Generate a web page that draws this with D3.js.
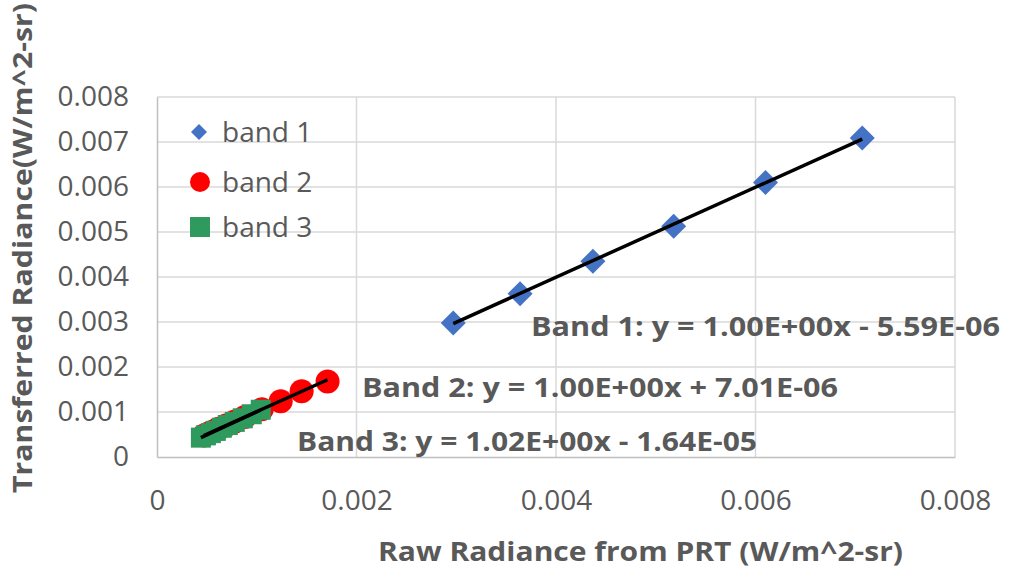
<!DOCTYPE html>
<html>
<head>
<meta charset="utf-8">
<script src="https://cdn.jsdelivr.net/npm/d3@7/dist/d3.min.js"></script>
<style>
  html, body { margin: 0; padding: 0; background: #ffffff; }
  svg { display: block; }
  text { font-family: "Open Sans", "Liberation Sans", sans-serif; fill: #595959; }
</style>
</head>
<body>
<svg id="chart" width="1014" height="573"></svg>
<script>
// Raw radiance (x) vs transferred radiance (y), W/m^2-sr
const band1X = [0.00297, 0.00364, 0.00437, 0.00518, 0.00610, 0.00707];
const band1Y = [0.00298, 0.00363, 0.00435, 0.00513, 0.00610, 0.00709];

const band2X = [0.00047, 0.00054, 0.00061, 0.00069, 0.00078, 0.00088, 0.00105, 0.00124, 0.00145, 0.00171];
const band2Y = [0.00048, 0.00055, 0.00062, 0.00070, 0.00079, 0.00089, 0.00106, 0.00124, 0.00146, 0.00168];

const band3X = [0.00044, 0.00049, 0.00054, 0.00059, 0.00065, 0.00071, 0.00078, 0.00086, 0.00095, 0.00104];
const band3Y = [0.00043, 0.00048, 0.00053, 0.00058, 0.00065, 0.00071, 0.00078, 0.00086, 0.00095, 0.00105];

// Linear fit coefficients per band
const fitSlope = [1.00, 1.00, 1.02];
const fitIntercept = [-5.59e-6, 7.01e-6, -1.64e-5];

const seriesNames = ["band 1", "band 2", "band 3"];
const xTicks = [0, 0.002, 0.004, 0.006, 0.008];
const yTicks = [0, 0.001, 0.002, 0.003, 0.004, 0.005, 0.006, 0.007, 0.008];
const xTitle = "Raw Radiance from PRT (W/m^2-sr)";
const yTitle = "Transferred Radiance(W/m^2-sr)";

const colors = ["#4472C4", "#FF0000", "#2E9A5E"];
const textGray = "#595959";

const svg = d3.select("#chart");
const plot = { left: 157, right: 955, top: 97, bottom: 457 };

const x = d3.scaleLinear().domain([0, 0.008]).range([plot.left, plot.right]);
const y = d3.scaleLinear().domain([0, 0.008]).range([plot.bottom, plot.top]);

// Gridlines
const grid = svg.append("g");
grid.selectAll("line.h").data(yTicks.filter(d => d > 0)).join("line")
  .attr("x1", plot.left).attr("x2", plot.right)
  .attr("y1", d => y(d)).attr("y2", d => y(d))
  .attr("stroke", "#d9d9d9").attr("stroke-width", 1.5);
grid.selectAll("line.v").data(xTicks.filter(d => d > 0)).join("line")
  .attr("y1", plot.top).attr("y2", plot.bottom)
  .attr("x1", d => x(d)).attr("x2", d => x(d))
  .attr("stroke", "#d9d9d9").attr("stroke-width", 1.5);

// Axes (no tick marks, labels only)
const fmt = d => d === 0 ? "0" : d3.format(".3f")(d);
const xAxis = d3.axisBottom(x).tickValues(xTicks).tickFormat(fmt).tickSize(0).tickPadding(30);
const yAxis = d3.axisLeft(y).tickValues(yTicks).tickFormat(fmt).tickSize(0).tickPadding(28);

const gx = svg.append("g").attr("transform", `translate(0,${plot.bottom})`).call(xAxis);
const gy = svg.append("g").attr("transform", `translate(${plot.left},0)`).call(yAxis);
[gx, gy].forEach(g => {
  g.select(".domain").attr("stroke", "#bfbfbf").attr("stroke-width", 1.5);
  g.selectAll("text").attr("font-size", 28).attr("fill", textGray)
    .attr("font-family", "'Open Sans', sans-serif");
});
gx.selectAll("text").attr("dy", "0.35em").attr("y", 43);

// Markers
function diamondPath(h) { return `M0,${-h}L${h},0L0,${h}L${-h},0Z`; }

const pts = (xs, ys) => xs.map((v, i) => ({ x: v, y: ys[i] }));

svg.append("g").selectAll("path").data(pts(band1X, band1Y)).join("path")
  .attr("d", diamondPath(12.5))
  .attr("transform", d => `translate(${x(d.x)},${y(d.y)})`)
  .attr("fill", colors[0]);

svg.append("g").selectAll("circle").data(pts(band2X, band2Y)).join("circle")
  .attr("cx", d => x(d.x)).attr("cy", d => y(d.y)).attr("r", 12)
  .attr("fill", colors[1]);

svg.append("g").selectAll("rect").data(pts(band3X, band3Y)).join("rect")
  .attr("x", d => x(d.x) - 10).attr("y", d => y(d.y) - 10)
  .attr("width", 20).attr("height", 20)
  .attr("fill", colors[2]);

// Trend lines from the fit coefficients, over each band's x range
const bandsX = [band1X, band2X, band3X];
const trend = svg.append("g");
bandsX.forEach((xs, i) => {
  const [x0, x1] = d3.extent(xs);
  const f = v => fitSlope[i] * v + fitIntercept[i];
  trend.append("line")
    .attr("x1", x(x0)).attr("y1", y(f(x0)))
    .attr("x2", x(x1)).attr("y2", y(f(x1)))
    .attr("stroke", "#000").attr("stroke-width", 3.5);
});

// Fit equation labels
const eqText = i => {
  const s = fitSlope[i].toExponential(2).replace("e+", "E+0").replace("e-", "E-0");
  const b = Math.abs(fitIntercept[i]).toExponential(2).replace("e-", "E-0").replace("e+", "E+0");
  return `Band ${i + 1}: y = ${s}x ${fitIntercept[i] < 0 ? "-" : "+"} ${b}`;
};
const eqPos = [
  { x: 531, y: 336, w: 469 },
  { x: 362, y: 397, w: 476 },
  { x: 297, y: 451, w: 460 }
];
svg.append("g").selectAll("text").data(eqPos).join("text")
  .attr("x", d => d.x).attr("y", d => d.y)
  .attr("font-size", 26).attr("font-weight", "bold").attr("fill", textGray)
  .attr("textLength", d => d.w).attr("lengthAdjust", "spacingAndGlyphs")
  .text((d, i) => eqText(i));

// Legend
const legend = svg.append("g");
const legendY = [132, 182, 227];
legend.append("path").attr("d", diamondPath(8))
  .attr("transform", `translate(199,${legendY[0]})`).attr("fill", colors[0]);
legend.append("circle").attr("cx", 200).attr("cy", legendY[1]).attr("r", 10).attr("fill", colors[1]);
legend.append("rect").attr("x", 190).attr("y", legendY[2] - 10).attr("width", 20).attr("height", 20).attr("fill", colors[2]);
legend.selectAll("text").data(seriesNames).join("text")
  .attr("x", 222).attr("y", (d, i) => legendY[i])
  .attr("dy", "0.35em")
  .attr("font-size", 28).attr("fill", textGray)
  .text(d => d);

// Axis titles
svg.append("text")
  .attr("x", (378 + 903) / 2).attr("y", 561)
  .attr("text-anchor", "middle")
  .attr("font-size", 27).attr("font-weight", "bold").attr("fill", textGray)
  .attr("textLength", 525).attr("lengthAdjust", "spacingAndGlyphs")
  .text(xTitle);

svg.append("text")
  .attr("transform", "translate(32,248) rotate(-90)")
  .attr("text-anchor", "middle")
  .attr("font-size", 27).attr("font-weight", "bold").attr("fill", textGray)
  .attr("textLength", 490).attr("lengthAdjust", "spacingAndGlyphs")
  .text(yTitle);
</script>
</body>
</html>
